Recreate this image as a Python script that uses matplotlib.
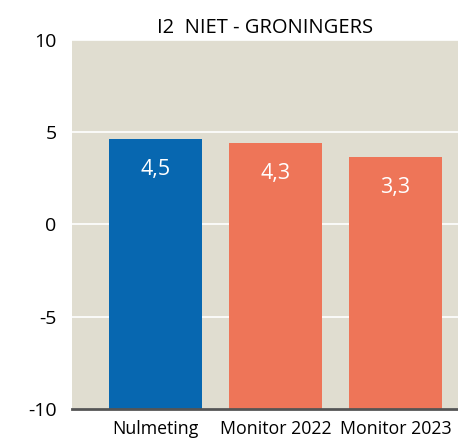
import matplotlib
matplotlib.use("Agg")
import matplotlib.pyplot as plt

categories = ["Nulmeting", "Monitor 2022", "Monitor 2023"]
values = [4.62, 4.40, 3.64]
labels = ["4,5", "4,3", "3,3"]
colors = ["#0767B0", "#EE7558", "#EE7558"]
yticks = [-10, -5, 0, 5, 10]
title = "I2  NIET - GRONINGERS"

plt.rcParams['font.family'] = ['Open Sans', 'DejaVu Sans']

fig = plt.figure(figsize=(4.58, 4.45), dpi=100)
ax = fig.add_axes([0.1572, 0.0816, 0.8428, 0.8285])
ax.set_facecolor("#E0DDD0")
ax.set_ylim(-10, 10)
ax.set_xlim(-0.696, 2.52)
x = list(range(len(categories)))
ax.bar(x, [v + 10 for v in values], bottom=-10, width=0.775, color=colors, zorder=3)
for xi, v, lab in zip(x, values, labels):
    ax.annotate(lab, (xi, v), xytext=(0, -30), textcoords="offset pixels",
                ha="center", va="center", color="white", fontsize=15.5, zorder=4)
ax.set_yticks(yticks)
ax.set_yticklabels([str(t) for t in yticks], fontsize=14)
ax.set_xticks(x)
ax.set_xticklabels(categories, fontsize=12.8)
ax.tick_params(axis="both", length=0)
ax.tick_params(axis="y", pad=11)
ax.tick_params(axis="x", pad=8)
ax.grid(axis="y", color="white", linewidth=1.2, zorder=1)
for s in ["top", "right", "left"]:
    ax.spines[s].set_visible(False)
ax.spines["bottom"].set_color("#555555")
ax.spines["bottom"].set_linewidth(2)
ax.spines["bottom"].set_zorder(5)
ax.set_title(title, fontsize=14.5, pad=5)
fig.savefig("out.png", dpi=100)
